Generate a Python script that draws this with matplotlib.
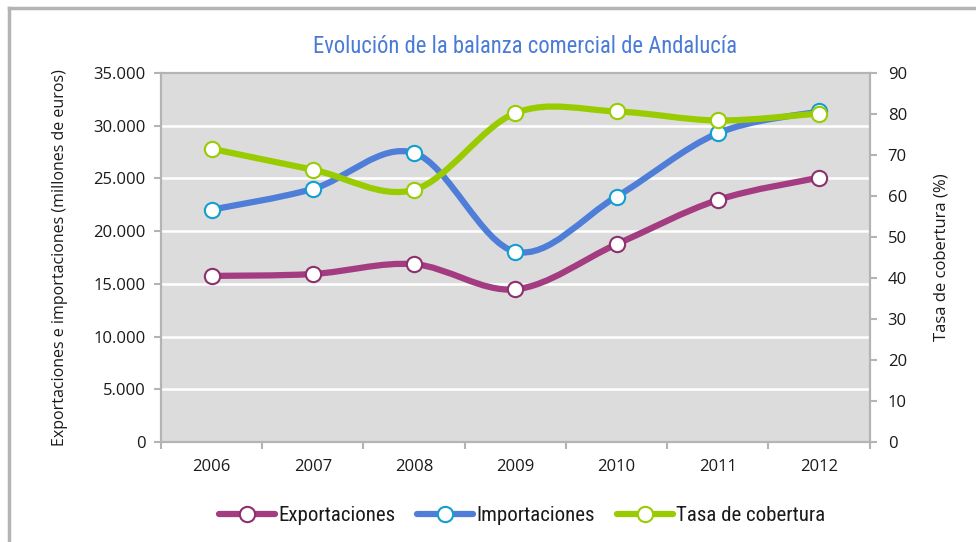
import matplotlib
matplotlib.use("Agg")
import matplotlib.pyplot as plt
from matplotlib.path import Path
from matplotlib.patches import PathPatch
from matplotlib.lines import Line2D
from matplotlib.ticker import FuncFormatter
import numpy as np

years = ["2006", "2007", "2008", "2009", "2010", "2011", "2012"]
exportaciones = [15750, 15930, 16860, 14480, 18750, 22950, 25070]
importaciones = [22030, 24000, 27410, 18050, 23270, 29280, 31350]
tasa = [71.5, 66.4, 61.5, 80.2, 80.6, 78.4, 80.1]

C_EXP = "#A33C80"
C_EXP_EDGE = "#8E2F6E"
C_IMP = "#4F7ED8"
C_IMP_EDGE = "#129FD0"
C_TASA = "#99CC00"
GRIS = "#B4B4B4"

plt.rcParams["font.family"] = ["Open Sans", "DejaVu Sans"]
NARROW = ["Roboto Condensed", "DejaVu Sans"]


def smooth_patch(x, y, color, lw):
    # curva suavizada como en Excel (bezier catmull-rom)
    x = np.asarray(x, float)
    y = np.asarray(y, float)
    px = np.concatenate([[x[0]], x, [x[-1]]])
    py = np.concatenate([[y[0]], y, [y[-1]]])
    verts = [(x[0], y[0])]
    codes = [Path.MOVETO]
    for i in range(len(x) - 1):
        j = i + 1
        c1 = (px[j] + (px[j + 1] - px[j - 1]) / 6, py[j] + (py[j + 1] - py[j - 1]) / 6)
        c2 = (px[j + 1] - (px[j + 2] - px[j]) / 6, py[j + 1] - (py[j + 2] - py[j]) / 6)
        verts += [c1, c2, (x[i + 1], y[i + 1])]
        codes += [Path.CURVE4] * 3
    return PathPatch(Path(verts, codes), facecolor="none", edgecolor=color,
                     lw=lw, capstyle="round", joinstyle="round", zorder=3)


fig = plt.figure(figsize=(9.76, 5.42), dpi=100)
ax = fig.add_axes([0.165, 0.1845, 0.726, 0.681])
ax2 = ax.twinx()

xs = np.arange(len(years))
ax.set_facecolor("#DCDCDC")
ax.set_xlim(-0.5, 6.5)
ax.set_ylim(0, 35000)
ax2.set_ylim(0, 90)

ax.set_yticks(np.arange(0, 35001, 5000))
ax.yaxis.set_major_formatter(FuncFormatter(lambda v, p: "{:,.0f}".format(v).replace(",", ".")))
ax2.set_yticks(np.arange(0, 91, 10))
for v in range(5000, 35000, 5000):
    ax.axhline(v, color="white", lw=1.8, zorder=1)

ax.set_xticks(np.arange(-0.5, 7, 1))
ax.set_xticklabels([])
ax.set_xticks(xs, minor=True)
ax.set_xticklabels(years, minor=True)
ax.tick_params(axis="x", which="minor", length=0, pad=12, labelsize=12, labelcolor="#1a1a1a")
ax.tick_params(axis="x", which="major", length=5, width=1.5, color=GRIS)
ax.tick_params(axis="y", length=5, width=1.5, color=GRIS, labelsize=12, pad=6, labelcolor="#1a1a1a")
ax2.tick_params(axis="y", length=5, width=1.5, color=GRIS, labelsize=12, pad=8, labelcolor="#1a1a1a")

for a in (ax, ax2):
    for s in a.spines.values():
        s.set_color(GRIS)
        s.set_linewidth(1.5)

ax.add_patch(smooth_patch(xs, exportaciones, C_EXP, 4.5))
ax.add_patch(smooth_patch(xs, importaciones, C_IMP, 4.5))
ax2.add_patch(smooth_patch(xs, tasa, C_TASA, 4.5))

mk = dict(marker="o", markersize=11, markerfacecolor="white", markeredgewidth=1.5, ls="none", zorder=4)
ax.plot(xs, exportaciones, markeredgecolor=C_EXP_EDGE, **mk)
ax.plot(xs, importaciones, markeredgecolor=C_IMP_EDGE, **mk)
ax2.plot(xs, tasa, markeredgecolor=C_TASA, **mk)

ax.set_ylabel("Exportaciones e importaciones (millones de euros)", fontsize=11.5, color="#1a1a1a")
ax2.set_ylabel("Tasa de cobertura (%)", fontsize=12, color="#1a1a1a")
ax.yaxis.label.set_va("center")
ax2.yaxis.label.set_va("center")
ax.yaxis.set_label_coords(-0.142, 0.5)
ax2.yaxis.set_label_coords(1.102, 0.5)

fig.text(0.538, 0.915, "Evolución de la balanza comercial de Andalucía",
         ha="center", va="center", fontsize=16.3, color="#4A7BD6", family=NARROW)

handles = [
    Line2D([], [], color=C_EXP, lw=4.5, marker="o", markersize=11, markerfacecolor="white",
           markeredgecolor=C_EXP_EDGE, markeredgewidth=1.5, solid_capstyle="round"),
    Line2D([], [], color=C_IMP, lw=4.5, marker="o", markersize=11, markerfacecolor="white",
           markeredgecolor=C_IMP_EDGE, markeredgewidth=1.5, solid_capstyle="round"),
    Line2D([], [], color=C_TASA, lw=4.5, marker="o", markersize=11, markerfacecolor="white",
           markeredgecolor=C_TASA, markeredgewidth=1.5, solid_capstyle="round"),
]
fig.legend(handles, ["Exportaciones", "Importaciones", "Tasa de cobertura"],
           loc="center", bbox_to_anchor=(0.535, 0.048), ncol=3, frameon=False,
           prop={"family": NARROW, "size": 15}, handlelength=2.7, handletextpad=0.15,
           columnspacing=1.05, labelcolor="#1a1a1a")

# borde del area del grafico
fig.add_artist(Line2D([0.009, 0.009], [0, 0.986], color=GRIS, lw=2.5, transform=fig.transFigure))
fig.add_artist(Line2D([0.009, 1], [0.986, 0.986], color=GRIS, lw=2.5, transform=fig.transFigure))

fig.savefig("out.png", dpi=100)
